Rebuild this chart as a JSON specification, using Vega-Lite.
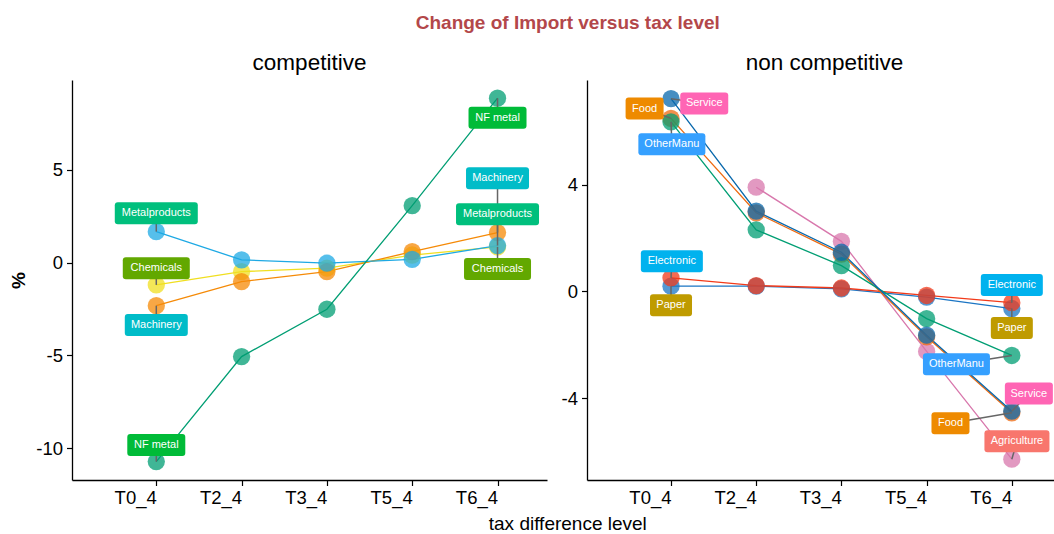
{
  "$schema": "https://vega.github.io/schema/vega-lite/v6.json",
  "padding": {"left": 9, "top": 13, "right": 0, "bottom": 0},
  "bounds": "flush",
  "spacing": 40,
  "title": {"text": "Change of Import versus tax level", "fontSize": 19, "fontWeight": "bold", "color": "#B3474A", "anchor": "middle", "offset": 19, "dx": 36},
  "datasets": {
    "series": [
      {"panel": "competitive", "sector": "Chemicals", "level": "T0_4", "value": -1.2},
      {"panel": "competitive", "sector": "Chemicals", "level": "T2_4", "value": -0.48},
      {"panel": "competitive", "sector": "Chemicals", "level": "T3_4", "value": -0.3},
      {"panel": "competitive", "sector": "Chemicals", "level": "T5_4", "value": 0.41},
      {"panel": "competitive", "sector": "Chemicals", "level": "T6_4", "value": 0.85},
      {"panel": "competitive", "sector": "Machinery", "level": "T0_4", "value": -2.32},
      {"panel": "competitive", "sector": "Machinery", "level": "T2_4", "value": -1.02},
      {"panel": "competitive", "sector": "Machinery", "level": "T3_4", "value": -0.48},
      {"panel": "competitive", "sector": "Machinery", "level": "T5_4", "value": 0.59},
      {"panel": "competitive", "sector": "Machinery", "level": "T6_4", "value": 1.62},
      {"panel": "competitive", "sector": "Metalproducts", "level": "T0_4", "value": 1.67},
      {"panel": "competitive", "sector": "Metalproducts", "level": "T2_4", "value": 0.15},
      {"panel": "competitive", "sector": "Metalproducts", "level": "T3_4", "value": -0.03},
      {"panel": "competitive", "sector": "Metalproducts", "level": "T5_4", "value": 0.18},
      {"panel": "competitive", "sector": "Metalproducts", "level": "T6_4", "value": 0.92},
      {"panel": "competitive", "sector": "NF metal", "level": "T0_4", "value": -10.72},
      {"panel": "competitive", "sector": "NF metal", "level": "T2_4", "value": -5.06},
      {"panel": "competitive", "sector": "NF metal", "level": "T3_4", "value": -2.51},
      {"panel": "competitive", "sector": "NF metal", "level": "T5_4", "value": 3.07},
      {"panel": "competitive", "sector": "NF metal", "level": "T6_4", "value": 8.86},
      {"panel": "non competitive", "sector": "Agriculture", "level": "T2_4", "value": 3.91},
      {"panel": "non competitive", "sector": "Agriculture", "level": "T3_4", "value": 1.88},
      {"panel": "non competitive", "sector": "Agriculture", "level": "T5_4", "value": -2.25},
      {"panel": "non competitive", "sector": "Agriculture", "level": "T6_4", "value": -6.29},
      {"panel": "non competitive", "sector": "Paper", "level": "T0_4", "value": 0.2},
      {"panel": "non competitive", "sector": "Paper", "level": "T2_4", "value": 0.2},
      {"panel": "non competitive", "sector": "Paper", "level": "T3_4", "value": 0.1},
      {"panel": "non competitive", "sector": "Paper", "level": "T5_4", "value": -0.21},
      {"panel": "non competitive", "sector": "Paper", "level": "T6_4", "value": -0.64},
      {"panel": "non competitive", "sector": "Electronic", "level": "T0_4", "value": 0.51},
      {"panel": "non competitive", "sector": "Electronic", "level": "T2_4", "value": 0.22},
      {"panel": "non competitive", "sector": "Electronic", "level": "T3_4", "value": 0.13},
      {"panel": "non competitive", "sector": "Electronic", "level": "T5_4", "value": -0.15},
      {"panel": "non competitive", "sector": "Electronic", "level": "T6_4", "value": -0.42},
      {"panel": "non competitive", "sector": "Food", "level": "T0_4", "value": 6.49},
      {"panel": "non competitive", "sector": "Food", "level": "T2_4", "value": 2.95},
      {"panel": "non competitive", "sector": "Food", "level": "T3_4", "value": 1.4},
      {"panel": "non competitive", "sector": "Food", "level": "T5_4", "value": -1.7},
      {"panel": "non competitive", "sector": "Food", "level": "T6_4", "value": -4.55},
      {"panel": "non competitive", "sector": "OtherManu", "level": "T0_4", "value": 6.36},
      {"panel": "non competitive", "sector": "OtherManu", "level": "T2_4", "value": 2.31},
      {"panel": "non competitive", "sector": "OtherManu", "level": "T3_4", "value": 0.97},
      {"panel": "non competitive", "sector": "OtherManu", "level": "T5_4", "value": -1.02},
      {"panel": "non competitive", "sector": "OtherManu", "level": "T6_4", "value": -2.4},
      {"panel": "non competitive", "sector": "Service", "level": "T0_4", "value": 7.23},
      {"panel": "non competitive", "sector": "Service", "level": "T2_4", "value": 3.01},
      {"panel": "non competitive", "sector": "Service", "level": "T3_4", "value": 1.47},
      {"panel": "non competitive", "sector": "Service", "level": "T5_4", "value": -1.64},
      {"panel": "non competitive", "sector": "Service", "level": "T6_4", "value": -4.49}
    ],
    "labels": [
      {"panel": "competitive", "sector": "Metalproducts", "lx": 0, "ly": 2.66, "px": 0, "py": 1.67},
      {"panel": "competitive", "sector": "Chemicals", "lx": 0, "ly": -0.3, "px": 0, "py": -1.2},
      {"panel": "competitive", "sector": "Machinery", "lx": 0, "ly": -3.36, "px": 0, "py": -2.32},
      {"panel": "competitive", "sector": "NF metal", "lx": 0, "ly": -9.82, "px": 0, "py": -10.72},
      {"panel": "competitive", "sector": "NF metal", "lx": 4, "ly": 7.81, "px": 4, "py": 8.86},
      {"panel": "competitive", "sector": "Machinery", "lx": 4, "ly": 4.55, "px": 4, "py": 1.62},
      {"panel": "competitive", "sector": "Metalproducts", "lx": 4, "ly": 2.61, "px": 4, "py": 0.92},
      {"panel": "competitive", "sector": "Chemicals", "lx": 4, "ly": -0.34, "px": 4, "py": 0.85},
      {"panel": "non competitive", "sector": "Food", "lx": -0.31, "ly": 6.86, "px": 0, "py": 6.49},
      {"panel": "non competitive", "sector": "Service", "lx": 0.39, "ly": 7.05, "px": 0, "py": 7.23},
      {"panel": "non competitive", "sector": "OtherManu", "lx": 0.01, "ly": 5.52, "px": 0, "py": 6.36},
      {"panel": "non competitive", "sector": "Electronic", "lx": 0.01, "ly": 1.13, "px": 0, "py": 0.51},
      {"panel": "non competitive", "sector": "Paper", "lx": 0, "ly": -0.52, "px": 0, "py": 0.2},
      {"panel": "non competitive", "sector": "Electronic", "lx": 4, "ly": 0.24, "px": 4, "py": -0.42},
      {"panel": "non competitive", "sector": "Paper", "lx": 4, "ly": -1.37, "px": 4, "py": -0.64},
      {"panel": "non competitive", "sector": "OtherManu", "lx": 3.35, "ly": -2.73, "px": 4, "py": -2.4},
      {"panel": "non competitive", "sector": "Service", "lx": 4.2, "ly": -3.83, "px": 4, "py": -4.49},
      {"panel": "non competitive", "sector": "Food", "lx": 3.28, "ly": -4.94, "px": 4, "py": -4.55},
      {"panel": "non competitive", "sector": "Agriculture", "lx": 4.06, "ly": -5.62, "px": 4, "py": -6.29}
    ]
  },
  "hconcat": [
    {
      "width": 475,
      "height": 400,
      "title": {"text": "competitive", "fontSize": 22.5, "fontWeight": "normal", "color": "#000000", "anchor": "middle", "offset": 6},
      "layer": [
        {
          "data": {"name": "series"},
          "transform": [
            {"filter": "datum.panel === 'competitive'"},
            {"calculate": "indexof(['T0_4','T2_4','T3_4','T5_4','T6_4'], datum.level)", "as": "t"}
          ],
          "encoding": {
            "x": {"field": "t", "type": "quantitative", "scale": {"domain": [-0.988, 4.58], "nice": false, "zero": false},
              "axis": {"values": [0, 1, 2, 3, 4], "labelExpr": "['T0_4','T2_4','T3_4','T5_4','T6_4'][datum.value]", "labelAlign": "right", "title": "tax difference level", "titleX": 495.3, "titleY": 49, "titleBaseline": "alphabetic", "titleAlign": "center", "titleFontWeight": "normal"}},
            "y": {"field": "value", "type": "quantitative", "scale": {"domain": [-11.71, 9.84], "nice": false, "zero": false},
              "axis": {"values": [-10, -5, 0, 5], "labelExpr": "datum.value + ''", "title": "%", "titleX": -53.4, "titleY": 200, "titleAlign": "center", "titleBaseline": "middle", "titleAngle": -90, "titleFontWeight": "bold"}},
            "color": {"field": "sector", "type": "nominal", "legend": null,
              "scale": {"domain": ["Agriculture", "Chemicals", "Electronic", "Food", "Machinery", "Metalproducts", "NF metal", "OtherManu", "Paper", "Service"],
                        "range": ["#D877AC", "#F0DF20", "#F23A1A", "#EE6A10", "#F58A07", "#1EA9E4", "#009E73", "#009E73", "#1B75C4", "#0868AC"]}}
          },
          "layer": [
            {"mark": {"type": "line", "strokeWidth": 1.3}},
            {"mark": {"type": "circle", "size": 300, "opacity": 0.75}}
          ]
        },
        {
          "data": {"name": "labels"},
          "transform": [{"filter": "datum.panel === 'competitive'"}],
          "layer": [
            {"mark": {"type": "rule", "color": "#666666", "strokeWidth": 1.5},
              "encoding": {"x": {"field": "lx", "type": "quantitative"}, "y": {"field": "ly", "type": "quantitative"}, "x2": {"field": "px"}, "y2": {"field": "py"}}},
            {"mark": {"type": "point", "size": 4, "filled": true, "opacity": 1, "strokeWidth": 0},
              "encoding": {
                "x": {"field": "lx", "type": "quantitative"},
                "y": {"field": "ly", "type": "quantitative"},
                "fill": {"field": "sector", "type": "nominal", "legend": null,
                  "scale": {"domain": ["Agriculture", "Chemicals", "Electronic", "Food", "Machinery", "Metalproducts", "NF metal", "OtherManu", "Paper", "Service"],
                            "range": ["#F8766D", "#62A800", "#00B2EE", "#EE8A00", "#00BCC8", "#00BF7D", "#00BB38", "#35A0FF", "#BF9B00", "#FF65B4"]}},
                "shape": {"field": "sector", "type": "nominal", "legend": null,
                  "scale": {"domain": ["Agriculture", "Chemicals", "Electronic", "Food", "Machinery", "Metalproducts", "NF metal", "OtherManu", "Paper", "Service"], "range": [
                    "M-29.5,-11H29.5Q32.5,-11,32.5,-8V8Q32.5,11,29.5,11H-29.5Q-32.5,11,-32.5,8V-8Q-32.5,-11,-29.5,-11Z",
                    "M-30.5,-11H30.5Q33.5,-11,33.5,-8V8Q33.5,11,30.5,11H-30.5Q-33.5,11,-33.5,8V-8Q-33.5,-11,-30.5,-11Z",
                    "M-28,-11H28Q31,-11,31,-8V8Q31,11,28,11H-28Q-31,11,-31,8V-8Q-31,-11,-28,-11Z",
                    "M-16,-11H16Q19,-11,19,-8V8Q19,11,16,11H-16Q-19,11,-19,8V-8Q-19,-11,-16,-11Z",
                    "M-28.5,-11H28.5Q31.5,-11,31.5,-8V8Q31.5,11,28.5,11H-28.5Q-31.5,11,-31.5,8V-8Q-31.5,-11,-28.5,-11Z",
                    "M-38.5,-11H38.5Q41.5,-11,41.5,-8V8Q41.5,11,38.5,11H-38.5Q-41.5,11,-41.5,8V-8Q-41.5,-11,-38.5,-11Z",
                    "M-26,-11H26Q29,-11,29,-8V8Q29,11,26,11H-26Q-29,11,-29,8V-8Q-29,-11,-26,-11Z",
                    "M-30.5,-11H30.5Q33.5,-11,33.5,-8V8Q33.5,11,30.5,11H-30.5Q-33.5,11,-33.5,8V-8Q-33.5,-11,-30.5,-11Z",
                    "M-18,-11H18Q21,-11,21,-8V8Q21,11,18,11H-18Q-21,11,-21,8V-8Q-21,-11,-18,-11Z",
                    "M-21,-11H21Q24,-11,24,-8V8Q24,11,21,11H-21Q-24,11,-24,8V-8Q-24,-11,-21,-11Z"]}}
              }},
            {"mark": {"type": "text", "color": "#FFFFFF", "fontSize": 11, "align": "center", "baseline": "middle"},
              "encoding": {"x": {"field": "lx", "type": "quantitative"}, "y": {"field": "ly", "type": "quantitative"}, "text": {"field": "sector"}}}
          ]
        }
      ]
    },
    {
      "width": 467,
      "height": 400,
      "title": {"text": "non competitive", "fontSize": 22.5, "fontWeight": "normal", "color": "#000000", "anchor": "middle", "offset": 6, "dx": 4},
      "layer": [
        {
          "data": {"name": "series"},
          "transform": [
            {"filter": "datum.panel === 'non competitive'"},
            {"calculate": "indexof(['T0_4','T2_4','T3_4','T5_4','T6_4'], datum.level)", "as": "t"}
          ],
          "encoding": {
            "x": {"field": "t", "type": "quantitative", "scale": {"domain": [-0.986, 4.495], "nice": false, "zero": false},
              "axis": {"values": [0, 1, 2, 3, 4], "labelExpr": "['T0_4','T2_4','T3_4','T5_4','T6_4'][datum.value]", "labelAlign": "right", "title": null}},
            "y": {"field": "value", "type": "quantitative", "scale": {"domain": [-7.07, 7.93], "nice": false, "zero": false},
              "axis": {"values": [-4, 0, 4], "labelExpr": "datum.value + ''", "title": null}},
            "color": {"field": "sector", "type": "nominal", "legend": null,
              "scale": {"domain": ["Agriculture", "Chemicals", "Electronic", "Food", "Machinery", "Metalproducts", "NF metal", "OtherManu", "Paper", "Service"],
                        "range": ["#D877AC", "#F0DF20", "#F23A1A", "#EE6A10", "#F58A07", "#1EA9E4", "#009E73", "#009E73", "#1B75C4", "#0868AC"]}}
          },
          "layer": [
            {"mark": {"type": "line", "strokeWidth": 1.3}},
            {"mark": {"type": "circle", "size": 300, "opacity": 0.75}}
          ]
        },
        {
          "data": {"name": "labels"},
          "transform": [{"filter": "datum.panel === 'non competitive'"}],
          "layer": [
            {"mark": {"type": "rule", "color": "#666666", "strokeWidth": 1.5},
              "encoding": {"x": {"field": "lx", "type": "quantitative"}, "y": {"field": "ly", "type": "quantitative"}, "x2": {"field": "px"}, "y2": {"field": "py"}}},
            {"mark": {"type": "point", "size": 4, "filled": true, "opacity": 1, "strokeWidth": 0},
              "encoding": {
                "x": {"field": "lx", "type": "quantitative"},
                "y": {"field": "ly", "type": "quantitative"},
                "fill": {"field": "sector", "type": "nominal", "legend": null,
                  "scale": {"domain": ["Agriculture", "Chemicals", "Electronic", "Food", "Machinery", "Metalproducts", "NF metal", "OtherManu", "Paper", "Service"],
                            "range": ["#F8766D", "#62A800", "#00B2EE", "#EE8A00", "#00BCC8", "#00BF7D", "#00BB38", "#35A0FF", "#BF9B00", "#FF65B4"]}},
                "shape": {"field": "sector", "type": "nominal", "legend": null,
                  "scale": {"domain": ["Agriculture", "Chemicals", "Electronic", "Food", "Machinery", "Metalproducts", "NF metal", "OtherManu", "Paper", "Service"], "range": [
                    "M-29.5,-11H29.5Q32.5,-11,32.5,-8V8Q32.5,11,29.5,11H-29.5Q-32.5,11,-32.5,8V-8Q-32.5,-11,-29.5,-11Z",
                    "M-30.5,-11H30.5Q33.5,-11,33.5,-8V8Q33.5,11,30.5,11H-30.5Q-33.5,11,-33.5,8V-8Q-33.5,-11,-30.5,-11Z",
                    "M-28,-11H28Q31,-11,31,-8V8Q31,11,28,11H-28Q-31,11,-31,8V-8Q-31,-11,-28,-11Z",
                    "M-16,-11H16Q19,-11,19,-8V8Q19,11,16,11H-16Q-19,11,-19,8V-8Q-19,-11,-16,-11Z",
                    "M-28.5,-11H28.5Q31.5,-11,31.5,-8V8Q31.5,11,28.5,11H-28.5Q-31.5,11,-31.5,8V-8Q-31.5,-11,-28.5,-11Z",
                    "M-38.5,-11H38.5Q41.5,-11,41.5,-8V8Q41.5,11,38.5,11H-38.5Q-41.5,11,-41.5,8V-8Q-41.5,-11,-38.5,-11Z",
                    "M-26,-11H26Q29,-11,29,-8V8Q29,11,26,11H-26Q-29,11,-29,8V-8Q-29,-11,-26,-11Z",
                    "M-30.5,-11H30.5Q33.5,-11,33.5,-8V8Q33.5,11,30.5,11H-30.5Q-33.5,11,-33.5,8V-8Q-33.5,-11,-30.5,-11Z",
                    "M-18,-11H18Q21,-11,21,-8V8Q21,11,18,11H-18Q-21,11,-21,8V-8Q-21,-11,-18,-11Z",
                    "M-21,-11H21Q24,-11,24,-8V8Q24,11,21,11H-21Q-24,11,-24,8V-8Q-24,-11,-21,-11Z"]}}
              }},
            {"mark": {"type": "text", "color": "#FFFFFF", "fontSize": 11, "align": "center", "baseline": "middle"},
              "encoding": {"x": {"field": "lx", "type": "quantitative"}, "y": {"field": "ly", "type": "quantitative"}, "text": {"field": "sector"}}}
          ]
        }
      ]
    }
  ],
  "config": {
    "font": "Liberation Sans",
    "view": {"stroke": null},
    "axis": {
      "grid": false,
      "domainColor": "#000000",
      "domainWidth": 1.3,
      "tickColor": "#000000",
      "tickWidth": 1.2,
      "tickSize": 5.5,
      "labelColor": "#000000",
      "labelFontSize": 18.5,
      "labelFont": "Liberation Sans",
      "labelPadding": 4,
      "titleColor": "#000000",
      "titleFontSize": 19,
      "titleFont": "Liberation Sans"
    },
    "axisX": {"labelPadding": 3, "labelFlush": false, "labelOverlap": false},
    "axisY": {"labelPadding": 4},
    "title": {"font": "Liberation Sans"}
  }
}
